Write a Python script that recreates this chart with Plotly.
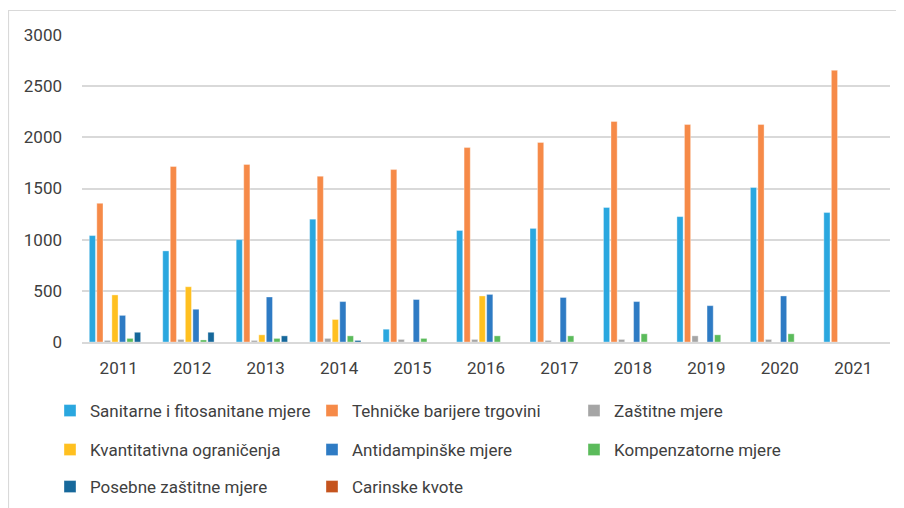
import plotly.graph_objects as go

years = ["2011", "2012", "2013", "2014", "2015", "2016", "2017", "2018", "2019", "2020", "2021"]

sanitarne = [1040, 890, 1000, 1200, 125, 1090, 1110, 1315, 1225, 1510, 1265]
tehnicke = [1355, 1715, 1735, 1620, 1685, 1900, 1950, 2155, 2125, 2125, 2655]
zastitne = [15, 25, 15, 35, 25, 25, 15, 25, 60, 25, 0]
kvantitativna = [460, 540, 70, 220, 0, 450, 0, 0, 0, 0, 0]
antidampinske = [260, 320, 440, 395, 415, 465, 435, 395, 355, 450, 0]
kompenzatorne = [35, 20, 35, 60, 35, 60, 60, 80, 70, 80, 0]
posebne = [95, 95, 60, 15, 0, 0, 0, 0, 0, 0, 0]
carinske = [0, 0, 0, 0, 0, 0, 0, 0, 0, 0, 0]

series = [
    ("Sanitarne i fitosanitane mjere", sanitarne, "#2AA7DF", "legend"),
    ("Tehničke barijere trgovini", tehnicke, "#F68A48", "legend"),
    ("Zaštitne mjere", zastitne, "#A5A5A5", "legend"),
    ("Kvantitativna ograničenja", kvantitativna, "#FFC020", "legend2"),
    ("Antidampinške mjere", antidampinske, "#2E7BC4", "legend2"),
    ("Kompenzatorne mjere", kompenzatorne, "#5BBB5B", "legend2"),
    ("Posebne zaštitne mjere", posebne, "#16689B", "legend3"),
    ("Carinske kvote", carinske, "#C5541E", "legend3"),
]

FONT = "Roboto"
fig = go.Figure()
for name, vals, col, lg in series:
    fig.add_trace(go.Bar(
        x=years, y=vals, name=name, legend=lg,
        marker=dict(color=col, line=dict(color="rgba(255,255,255,0.6)", width=0.6)),
    ))

# page body has an 8px margin; work in viewport pixels and offset
OFF = 8
VW, VH = 904, 508
W, H = VW - OFF, VH - OFF
PX0, PX1, PY0, PY1 = 82, 890, 35, 342  # plot area in viewport pixels
L, R, T, B = PX0 - OFF, VW - PX1, PY0 - OFF, VH - PY1
pw = PX1 - PX0
ph = PY1 - PY0

def px_x(px):
    return (px - PX0) / pw

def px_y(py):
    return (PY1 - py) / ph

leg_common = dict(orientation="h", xanchor="left", yanchor="middle",
                  font=dict(family=FONT, size=17, color="#404040"),
                  entrywidth=217, entrywidthmode="pixels",
                  bgcolor="rgba(0,0,0,0)", itemwidth=30)

fig.update_layout(
    width=W, height=H,
    margin=dict(l=L, r=R, t=T, b=B, pad=0, autoexpand=False),
    paper_bgcolor="white", plot_bgcolor="white",
    barmode="group", bargap=0.18, bargroupgap=0.18,
    font=dict(family=FONT, size=17, color="#404040"),
    xaxis=dict(type="category", showgrid=False, showline=True, linecolor="#D9D9D9",
               linewidth=1.5, ticks="", tickfont=dict(family=FONT, size=17, color="#404040"),
               ticklabelstandoff=10, automargin=False),
    yaxis=dict(range=[0, 3000], dtick=500, showgrid=True, gridcolor="#D9D9D9", gridwidth=1.5,
               zeroline=False, showline=False, ticks="", automargin=False,
               tickfont=dict(family=FONT, size=17, color="#404040"), ticklabelstandoff=19),
    legend=dict(x=px_x(50), y=px_y(411), **leg_common),
    legend2=dict(x=px_x(50), y=px_y(450), **leg_common),
    legend3=dict(x=px_x(50), y=px_y(487), **leg_common),
    shapes=[dict(type="rect", xref="paper", yref="paper",
                 x0=px_x(8.5), x1=px_x(930), y0=px_y(540), y1=px_y(10.5),
                 line=dict(color="#D9D9D9", width=1.2), fillcolor="rgba(0,0,0,0)", layer="below")],
)

fig.write_html("out.html")
